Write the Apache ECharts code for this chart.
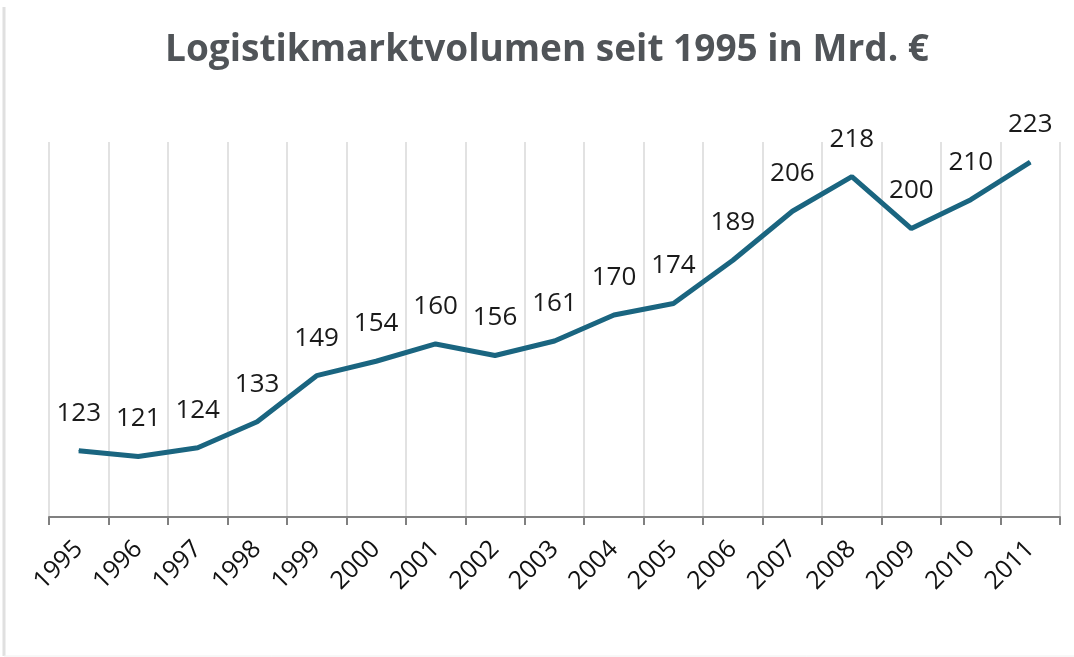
<html>
<head>
    <meta charset="utf-8">
    <title>Logistikmarktvolumen</title>
    <script src="https://cdn.jsdelivr.net/npm/echarts@6/dist/echarts.min.js"></script>
    <style>
        body { margin: 0; background: #fff; }
    </style>
</head>
<body>
    <div id="main" style="width:1074px;height:657px;"></div>
    <script>
        // Jahre und Volumen (Mrd. €)
        var years = ['1995', '1996', '1997', '1998', '1999', '2000', '2001', '2002', '2003',
            '2004', '2005', '2006', '2007', '2008', '2009', '2010', '2011'];
        var volumes = [123, 121, 124, 133, 149, 154, 160, 156, 161, 170, 174, 189, 206, 218, 200, 210, 223];

        var myChart = echarts.init(document.getElementById('main'));

        var option = {
            backgroundColor: '#fff',
            animation: false,
            title: {
                text: 'Logistikmarktvolumen seit 1995 in Mrd. €',
                left: 160,
                top: 27,
                textStyle: {
                    fontFamily: 'Open Sans',
                    fontWeight: 'bold',
                    fontSize: 37,
                    color: '#505458'
                }
            },
            grid: {
                left: 49,
                right: 14,
                top: 142,
                bottom: 140
            },
            xAxis: {
                type: 'category',
                data: years,
                boundaryGap: true,
                axisLine: {
                    lineStyle: { color: '#808080', width: 2 }
                },
                axisTick: {
                    show: true,
                    length: 8,
                    lineStyle: { color: '#808080', width: 2 }
                },
                axisLabel: {
                    rotate: 45,
                    margin: 28,
                    fontFamily: 'Open Sans',
                    fontSize: 25,
                    color: '#111'
                },
                splitLine: {
                    show: true,
                    lineStyle: { color: '#e2e2e2', width: 2 }
                }
            },
            yAxis: {
                type: 'value',
                min: 100,
                max: 230,
                show: false,
                splitLine: { show: false }
            },
            graphic: [{
                type: 'line',
                shape: { x1: 4, y1: 7, x2: 4, y2: 656 },
                style: { stroke: '#e0e0e0', lineWidth: 3 }
            }, {
                type: 'line',
                shape: { x1: 4, y1: 656, x2: 1074, y2: 656 },
                style: { stroke: '#f0f0f0', lineWidth: 1 }
            }],
            series: [{
                type: 'line',
                data: volumes,
                symbol: 'circle',
                symbolSize: 1,
                lineStyle: { color: '#1a6580', width: 5 },
                itemStyle: { color: '#1a6580' },
                label: {
                    show: true,
                    position: 'top',
                    distance: 24,
                    fontFamily: 'Open Sans',
                    fontSize: 26,
                    color: '#1a1a1a'
                }
            }]
        };
        myChart.setOption(option);
    </script>
</body>
</html>
